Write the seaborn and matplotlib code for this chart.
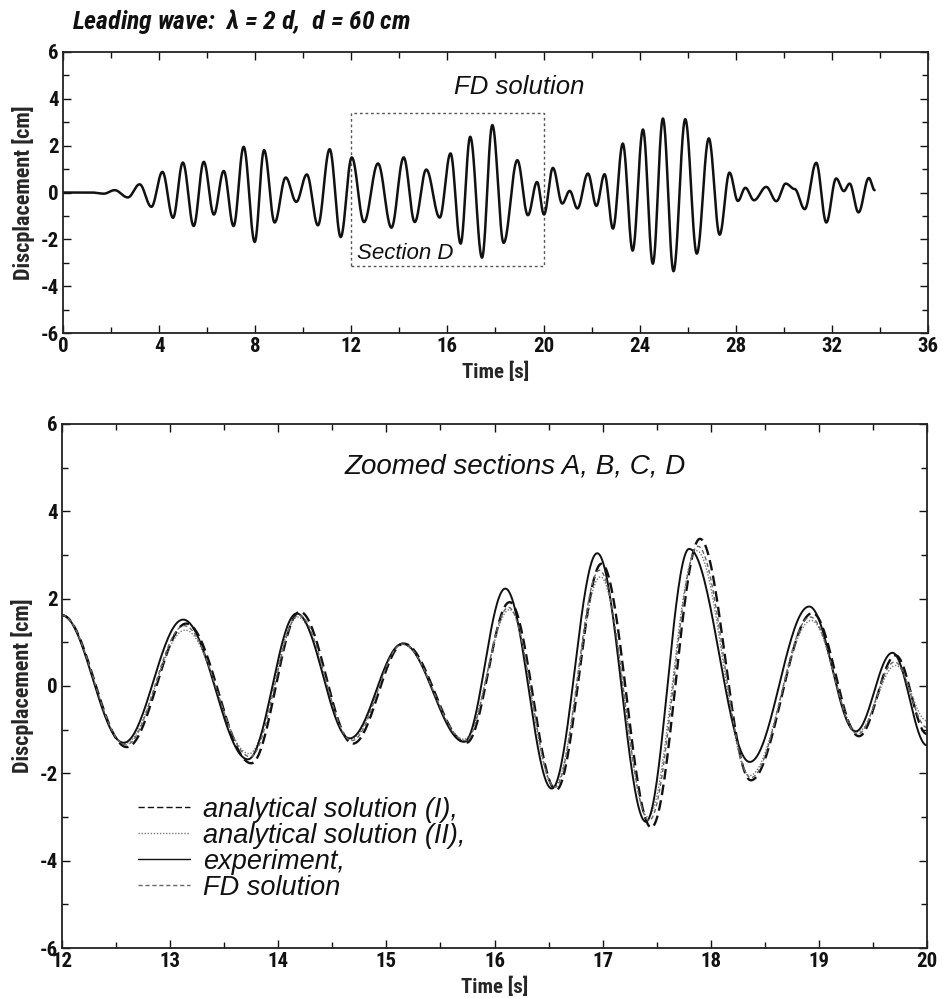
import numpy as np
import pandas as pd
import matplotlib
matplotlib.use("Agg")
import matplotlib.pyplot as plt
from matplotlib import font_manager
from matplotlib.patches import Rectangle
from matplotlib.ticker import MultipleLocator
import seaborn as sns

# ---- FD solution, full record: successive crests/troughs (time [s], displacement [cm])
fd_full_t = [0.0, 1.20, 1.70, 2.15, 2.70, 3.19, 3.68, 4.14, 4.58, 4.99, 5.44, 5.86,
             6.28, 6.69, 7.10, 7.52, 7.98, 8.37, 8.81, 9.27, 9.71, 10.15, 10.61,
             11.10, 11.56, 12.02, 12.53, 13.11, 13.67, 14.18, 14.64, 15.12, 15.68,
             16.13, 16.55, 16.95, 17.44, 17.87, 18.34, 18.91, 19.35, 19.73, 20.02,
             20.39, 20.78, 21.09, 21.41, 21.85, 22.20, 22.54, 22.89, 23.30, 23.71,
             24.14, 24.55, 24.97, 25.41, 25.90, 26.38, 26.88, 27.33, 27.74, 28.09,
             28.40, 28.76, 29.27, 29.69, 30.08, 30.45, 30.87, 31.35, 31.77, 32.18,
             32.50, 32.74, 33.11, 33.54, 33.78]
fd_full_v = [0.0, 0.0, -0.05, 0.10, -0.21, 0.35, -0.61, 0.88, -1.08, 1.28, -1.43, 1.31,
             -0.94, 0.92, -1.43, 1.95, -2.11, 1.81, -1.28, 0.64, -0.40, 0.77, -1.40,
             1.85, -1.90, 1.50, -1.26, 1.24, -1.50, 1.50, -1.26, 0.98, -1.07,
             1.67, -2.18, 2.38, -2.78, 2.88, -2.15, 1.38, -0.97, 0.45, -0.94,
             1.05, -0.47, 0.07, -0.68, 0.81, -0.57, 0.78, -1.54, 2.09, -2.48,
             2.69, -3.04, 3.16, -3.36, 3.13, -2.61, 2.31, -1.80, 0.85, -0.36,
             0.20, -0.33, 0.24, -0.37, 0.38, 0.15, -0.71, 1.27, -1.28, 0.60,
             0.06, 0.38, -0.85, 0.62, 0.10]

# ---- Section D (12-20 s): crests/troughs of each record
an1_t = [12.0, 12.60, 13.15, 13.75, 14.20, 14.69, 15.16, 15.74, 16.14, 16.57, 16.99,
         17.45, 17.90, 18.37, 18.94, 19.37, 19.71, 20.0]
an1_v = [1.62, -1.40, 1.43, -1.77, 1.70, -1.32, 0.97, -1.30, 1.92, -2.38, 2.80,
         -3.24, 3.37, -2.16, 1.67, -1.15, 0.70, -1.10]

an2_t = [12.0, 12.58, 13.14, 13.73, 14.18, 14.67, 15.15, 15.72, 16.14, 16.55, 16.98,
         17.42, 17.87, 18.36, 18.93, 19.36, 19.71, 20.0]
an2_v = [1.62, -1.32, 1.28, -1.55, 1.58, -1.22, 0.95, -1.22, 1.75, -2.30, 2.50,
         -3.00, 3.10, -2.05, 1.50, -1.05, 0.47, -0.80]

exp_t = [12.0, 12.57, 13.12, 13.72, 14.17, 14.66, 15.15, 15.72, 16.10, 16.53, 16.95,
         17.40, 17.80, 18.36, 18.91, 19.34, 19.68, 20.0]
exp_v = [1.62, -1.30, 1.52, -1.68, 1.66, -1.20, 0.97, -1.28, 2.23, -2.35, 3.04,
         -3.11, 3.14, -1.74, 1.82, -1.04, 0.76, -1.36]

fd_t = [12.0, 12.59, 13.13, 13.74, 14.19, 14.68, 15.15, 15.73, 16.13, 16.56, 16.97,
        17.43, 17.88, 18.37, 18.92, 19.36, 19.70, 20.0]
fd_v = [1.62, -1.35, 1.38, -1.62, 1.62, -1.25, 0.96, -1.25, 1.80, -2.32, 2.65,
        -3.08, 3.20, -2.10, 1.58, -1.10, 0.55, -0.95]

series_labels = ["analytical solution (I),", "analytical solution (II),",
                 "experiment,", "FD solution"]


def wave(ts, vs, n=40):
    """Join consecutive crests/troughs with half-cosine arcs."""
    tt, vv = [], []
    for i in range(len(ts) - 1):
        s = np.linspace(0.0, 1.0, n, endpoint=False)
        tt.extend(ts[i] + (ts[i + 1] - ts[i]) * s)
        vv.extend(vs[i] + (vs[i + 1] - vs[i]) * (1 - np.cos(np.pi * s)) / 2)
    tt.append(ts[-1])
    vv.append(vs[-1])
    return pd.DataFrame({"t": tt, "v": vv})


def pick_narrow():
    """Find an installed narrow/condensed sans face for labels and ticks."""
    fonts = font_manager.fontManager.ttflist
    names = {f.name for f in fonts}
    for nm in ["Liberation Sans Narrow", "Roboto Condensed", "Open Sans Condensed",
               "DejaVu Sans Condensed", "Noto Sans Condensed"]:
        if nm in names:
            return nm, "normal"
    for f in fonts:
        if f.name in ("DejaVu Sans", "Roboto", "Open Sans", "Noto Sans", "Inter") and \
                f.stretch in ("condensed", "semi-condensed", "extra-condensed",
                              "ultra-condensed"):
            return f.name, "condensed"
    return "Liberation Sans", "normal"


narrow_family, narrow_stretch = pick_narrow()

sns.set_style("ticks")
plt.rcParams["font.family"] = ["Liberation Sans", "DejaVu Sans"]
plt.rcParams["axes.unicode_minus"] = False
plt.rcParams["mathtext.fontset"] = "custom"
plt.rcParams["mathtext.it"] = f"{narrow_family}:italic:bold"
plt.rcParams["mathtext.rm"] = f"{narrow_family}:bold"

label_font = dict(family=[narrow_family, "Liberation Sans"], stretch=narrow_stretch,
                  weight="bold")

fig = plt.figure(figsize=(9.44, 9.98), dpi=100)
ax1 = fig.add_axes([0.0667, 0.6663, 0.9163, 0.2816])
ax2 = fig.add_axes([0.0657, 0.0501, 0.9163, 0.5251])

ink = "#111111"

# ---- top panel
sns.lineplot(data=wave(fd_full_t, fd_full_v), x="t", y="v", ax=ax1, color=ink,
             lw=1.8, estimator=None, sort=False)
ax1.add_patch(Rectangle((12, -3.14), 8, 6.52, fill=False, ls=(0, (2, 2)),
                        lw=1.0, ec="#555555"))
ax1.text(19.0, 4.5, "FD solution", ha="center", va="center", fontsize=18.5,
         style="italic", color=ink)
ax1.text(12.25, -2.62, "Section D", ha="left", va="center", fontsize=16,
         style="italic", color=ink)
ax1.set_xlim(0, 36)
ax1.set_ylim(-6, 6)
ax1.xaxis.set_major_locator(MultipleLocator(4))
ax1.xaxis.set_minor_locator(MultipleLocator(2))
ax1.yaxis.set_major_locator(MultipleLocator(2))
ax1.yaxis.set_minor_locator(MultipleLocator(1))

# ---- bottom panel
styles = [
    dict(color=ink, lw=1.7, ls=(0, (4.5, 2.2))),
    dict(color="#777777", lw=1.0, ls=(0, (1, 1.2))),
    dict(color=ink, lw=1.4, ls="-"),
    dict(color="#666666", lw=1.0, ls=(0, (3, 2))),
]
records = [(an1_t, an1_v), (an2_t, an2_v), (exp_t, exp_v), (fd_t, fd_v)]
for (ts, vs), st, lab in zip(records, styles, series_labels):
    sns.lineplot(data=wave(ts, vs), x="t", y="v", ax=ax2, label=lab,
                 estimator=None, sort=False, **st)
ax2.text(16.19, 5.03, "Zoomed sections A, B, C, D", ha="center", va="center",
         fontsize=20, style="italic", color=ink)
ax2.set_xlim(12, 20)
ax2.set_ylim(-6, 6)
ax2.xaxis.set_major_locator(MultipleLocator(1))
ax2.xaxis.set_minor_locator(MultipleLocator(0.5))
ax2.yaxis.set_major_locator(MultipleLocator(2))
ax2.yaxis.set_minor_locator(MultipleLocator(1))
leg = ax2.legend(loc="upper left", bbox_to_anchor=(0.06, 0.335), frameon=False,
                 handlelength=1.9, handletextpad=0.5, labelspacing=0.0,
                 prop=dict(style="italic", size=19.5))
for txt in leg.get_texts():
    txt.set_color(ink)
for ln in leg.get_lines():
    ln.set_linewidth(1.0)

for ax in (ax1, ax2):
    ax.set_xlabel("Time [s]", fontsize=15, labelpad=4, **label_font)
    ax.set_ylabel("Discplacement [cm]", fontsize=16, labelpad=4, **label_font)
    ax.tick_params(which="both", direction="in", top=True, right=True,
                   colors=ink, width=1.0)
    ax.tick_params(which="major", length=6, labelsize=15, pad=3)
    ax.tick_params(which="minor", length=4)
    for lab in ax.get_xticklabels() + ax.get_yticklabels():
        lab.set_fontweight("bold")
        lab.set_family([narrow_family, "Liberation Sans"])
        lab.set_stretch(narrow_stretch)
    for sp in ax.spines.values():
        sp.set_linewidth(1.3)
        sp.set_color("#222222")
        sp.set_visible(True)

fig.text(0.076, 0.978, r"Leading wave:  $\lambda$ = 2 d,  d = 60 cm", ha="left",
         va="center", fontsize=18.5, fontweight="heavy", style="italic", color=ink,
         family=[narrow_family, "Liberation Sans"], stretch=narrow_stretch)

fig.savefig("out.png", dpi=100, facecolor="white")
